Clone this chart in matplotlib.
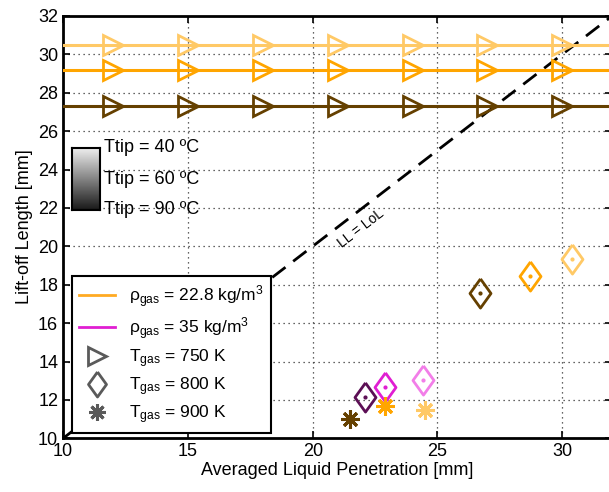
import numpy as np
import matplotlib
matplotlib.use("Agg")
import matplotlib.pyplot as plt
from matplotlib.lines import Line2D

plt.rcParams["font.family"] = ["Liberation Sans", "DejaVu Sans"]
plt.rcParams["mathtext.fontset"] = "custom"
plt.rcParams["mathtext.rm"] = "Liberation Sans"
plt.rcParams["mathtext.it"] = "Liberation Sans:italic"

# colours per injector tip temperature (light -> dark = 40, 60, 90 degC)
c_rho228 = ["#FFC966", "#FFA500", "#654000"]
c_rho35 = ["#F27EE8", "#E01ED2", "#5C0F55"]

# T = 750 K: lift-off never reached (lines across the plot)
tri_x = [12, 15, 18, 21, 24, 27, 30]
tri_y = [30.5, 29.2, 27.3]

# T = 800 K
dia_x_228 = [30.4, 28.7, 26.7]
dia_y_228 = [19.35, 18.45, 17.55]
dia_x_35 = [24.4, 22.9, 22.1]
dia_y_35 = [13.05, 12.65, 12.15]

# T = 900 K
star_x_228 = [24.5, 22.9, 21.5]
star_y_228 = [11.45, 11.7, 11.0]

W, H = 609, 492
fig = plt.figure(figsize=(W / 100, H / 100), dpi=100)
ax = fig.add_axes([63.1 / W, 1 - 438.3 / H, (612.2 - 63.1) / W, (438.3 - 15.9) / H])

ax.set_xlim(10, 32)
ax.set_ylim(10, 32)
ax.set_xticks([10, 15, 20, 25, 30])
ax.set_yticks(np.arange(10, 33, 2))
ax.grid(True, linestyle=(0, (1, 3)), color="#333333", linewidth=0.9)
ax.tick_params(direction="in", length=5, width=1.2, labelsize=13, top=True, right=True)
for s in ax.spines.values():
    s.set_linewidth(2)

# diamond taller than wide
diamond = [(0, 1), (0.72, 0), (0, -1), (-0.72, 0), (0, 1)]
star = (8, 2, 0)

# LL = LoL reference
ax.plot([10, 32], [10, 32], color="black", linewidth=2, dashes=(6, 3.5), zorder=2)
ax.text(21.95, 20.95, "LL = LoL", rotation=37.6, fontsize=10, ha="center", va="center",
        rotation_mode="anchor")

for y, c in zip(tri_y, c_rho228):
    ax.plot([10, 32], [y, y], color=c, linewidth=2.2, zorder=3)
    ax.plot(tri_x, [y] * len(tri_x), linestyle="none", marker=">", markersize=14,
            markerfacecolor="none", markeredgecolor=c, markeredgewidth=2, zorder=4)

for x, y, c in zip(dia_x_228, dia_y_228, c_rho228):
    ax.plot(x, y, marker=diamond, markersize=21, markerfacecolor="none",
            markeredgecolor=c, markeredgewidth=2, zorder=4)
    ax.plot(x, y, marker="o", markersize=2, color=c, zorder=4)
for x, y, c in zip(dia_x_35, dia_y_35, c_rho35):
    ax.plot(x, y, marker=diamond, markersize=21, markerfacecolor="none",
            markeredgecolor=c, markeredgewidth=2, zorder=4)
    ax.plot(x, y, marker="o", markersize=2, color=c, zorder=4)
for x, y, c in zip(star_x_228, star_y_228, c_rho228):
    ax.plot(x, y, marker=star, markersize=13, color=c, markeredgewidth=2.2, zorder=4)

ax.set_xlabel("Averaged Liquid Penetration [mm]", fontsize=13, labelpad=1)
ax.set_ylabel("Lift-off Length [mm]", fontsize=13, labelpad=4)

gray = "#5A5A5A"
handles = [
    Line2D([], [], color="#FFAA22", linewidth=2),
    Line2D([], [], color="#E01ED2", linewidth=2),
    Line2D([], [], linestyle="none", marker=">", markersize=13, markerfacecolor="none",
           markeredgecolor=gray, markeredgewidth=2),
    Line2D([], [], linestyle="none", marker=diamond, markersize=18, markerfacecolor="none",
           markeredgecolor=gray, markeredgewidth=2),
    Line2D([], [], linestyle="none", marker=star, markersize=12, color=gray,
           markeredgewidth=2.2),
]
labels = [
    r"$\mathrm{\rho_{gas}}$ = 22.8 kg/m$^3$",
    r"$\mathrm{\rho_{gas}}$ = 35 kg/m$^3$",
    r"$\mathrm{T_{gas}}$ = 750 K",
    r"$\mathrm{T_{gas}}$ = 800 K",
    r"$\mathrm{T_{gas}}$ = 900 K",
]
leg = ax.legend(handles, labels, loc="lower left", bbox_to_anchor=(0.0162, 0.0125),
                borderaxespad=0, fontsize=12.5, fancybox=False, framealpha=1,
                edgecolor="black", handlelength=2.1, handletextpad=0.8,
                labelspacing=0.32, borderpad=0.4)
leg.get_frame().set_linewidth(1.5)
leg.set_zorder(10)

# Ttip gray scale key
cax = fig.add_axes([71.7 / W, 1 - 210 / H, 28.3 / W, 62 / H])
grad = np.linspace(0.93, 0.1, 100).reshape(-1, 1)
cax.imshow(grad, cmap="gray", vmin=0, vmax=1, aspect="auto")
cax.set_xticks([])
cax.set_yticks([])
for s in cax.spines.values():
    s.set_linewidth(1.5)
for yy, t in zip([1.0, 0.5, 0.0], ["Ttip = 40 ºC", "Ttip = 60 ºC", "Ttip = 90 ºC"]):
    cax.text(1.15, yy, t, transform=cax.transAxes, fontsize=13, va="center", ha="left")

fig.savefig("out.png", dpi=100)
